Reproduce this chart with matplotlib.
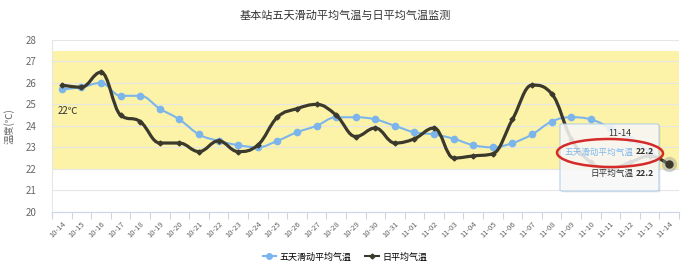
import numpy as np
import matplotlib
matplotlib.use('Agg')
import matplotlib.pyplot as plt
from matplotlib.path import Path
from matplotlib.patches import PathPatch, Ellipse, FancyBboxPatch
from matplotlib.lines import Line2D

plt.rcParams['font.family'] = ['Noto Sans CJK SC', 'DejaVu Sans']

TITLE = '基本站五天滑动平均气温与日平均气温监测'
DATES = ['10-14', '10-15', '10-16', '10-17', '10-18', '10-19', '10-20', '10-21',
         '10-22', '10-23', '10-24', '10-25', '10-26', '10-27', '10-28', '10-29',
         '10-30', '10-31', '11-01', '11-02', '11-03', '11-04', '11-05', '11-06',
         '11-07', '11-08', '11-09', '11-10', '11-11', '11-12', '11-13', '11-14']
# 五天滑动平均气温
MOVING = [25.7, 25.8, 26.0, 25.4, 25.4, 24.8, 24.3, 23.6, 23.3, 23.1, 23.0, 23.3,
          23.7, 24.0, 24.4, 24.4, 24.3, 24.0, 23.7, 23.6, 23.4, 23.1, 23.0, 23.2,
          23.6, 24.2, 24.4, 24.3, 23.9, 23.4, 22.8, 22.2]
# 日平均气温
DAILY = [25.9, 25.8, 26.5, 24.5, 24.2, 23.2, 23.2, 22.8, 23.3, 22.8, 23.1, 24.4,
         24.8, 25.0, 24.5, 23.5, 23.9, 23.2, 23.4, 23.9, 22.5, 22.6, 22.7, 24.3,
         25.9, 25.5, 23.4, 22.3, 22.0, 22.3, 22.6, 22.2]
BAND = (22, 27.5)
NAMES = ['五天滑动平均气温', '日平均气温']

BLUE = '#7cb5ec'
DARK = '#3b392c'


def spline_path(xs, ys, smoothing=1.5):
    # highcharts-style spline control points
    n = len(xs)
    lc = [(xs[i], ys[i]) for i in range(n)]
    rc = [(xs[i], ys[i]) for i in range(n)]
    d = smoothing + 1
    for i in range(1, n - 1):
        px, py = xs[i], ys[i]
        lx, ly = xs[i - 1], ys[i - 1]
        nx, ny = xs[i + 1], ys[i + 1]
        lcx, lcy = (smoothing * px + lx) / d, (smoothing * py + ly) / d
        rcx, rcy = (smoothing * px + nx) / d, (smoothing * py + ny) / d
        if rcx != lcx:
            corr = (rcy - lcy) * (rcx - px) / (rcx - lcx) + py - rcy
            lcy += corr
            rcy += corr
        if lcy > ly and lcy > py:
            lcy = max(ly, py); rcy = 2 * py - lcy
        elif lcy < ly and lcy < py:
            lcy = min(ly, py); rcy = 2 * py - lcy
        if rcy > ny and rcy > py:
            rcy = max(ny, py); lcy = 2 * py - rcy
        elif rcy < ny and rcy < py:
            rcy = min(ny, py); lcy = 2 * py - rcy
        lc[i] = (lcx, lcy)
        rc[i] = (rcx, rcy)
    verts = [(xs[0], ys[0])]
    codes = [Path.MOVETO]
    for i in range(1, n):
        verts += [rc[i - 1], lc[i], (xs[i], ys[i])]
        codes += [Path.CURVE4] * 3
    return Path(verts, codes)


def main():
    fig = plt.figure(figsize=(6.9, 2.75), dpi=100)
    ax = fig.add_axes([52 / 690, 1 - 211.7 / 275, 627 / 690, 171.7 / 275])
    x = np.arange(len(DATES))

    ax.axhspan(BAND[0], BAND[1], color='#fcf3a8', zorder=0, lw=0)
    ax.text(-0.2, 24.7, '22℃', fontsize=7, color='#333333', va='center', ha='left')

    ax.add_patch(PathPatch(spline_path(x, MOVING), fill=False, ec=BLUE, lw=1.5, zorder=3))
    ax.plot(x, MOVING, 'o', color=BLUE, ms=4.5, zorder=4)
    ax.add_patch(PathPatch(spline_path(x, DAILY), fill=False, ec=DARK, lw=2.3, zorder=5))
    ax.plot(x, DAILY, 'D', color=DARK, ms=2.5, zorder=6)
    # hovered point
    ax.plot(x[-1], DAILY[-1], 'o', color='#999999', ms=11, alpha=0.45, zorder=6, mec='none')
    ax.plot(x[-1], DAILY[-1], 'o', color=DARK, ms=5, zorder=7)

    ax.set_xlim(-0.5, len(DATES) - 0.5)
    ax.set_ylim(20, 28)
    ax.set_yticks(range(20, 29))
    ax.yaxis.grid(True, color='#e6e6e6', lw=0.8, zorder=1)
    ax.set_axisbelow(True)
    ax.set_xticks(x)
    ax.set_xticklabels(DATES, rotation=45, ha='right', rotation_mode='anchor',
                       fontsize=5.5, color='#666666')
    ax.set_xticks(np.arange(-0.5, len(DATES)), minor=True)
    ax.tick_params(axis='x', which='major', length=0, pad=6)
    ax.tick_params(axis='x', which='minor', length=5, color='#ccd6eb', width=0.8)
    ax.tick_params(axis='y', length=0, labelsize=7, labelcolor='#666666', pad=11)
    for s in ('top', 'right'):
        ax.spines[s].set_visible(False)
    ax.spines['left'].set_color('#e6e6e6')
    ax.spines['bottom'].set_color('#ccd6eb')
    ax.set_ylabel('温度(℃)', fontsize=7, color='#666666', labelpad=8)

    fig.text(0.5, 1 - 16 / 275, TITLE, ha='center', va='center', fontsize=8, color='#333333')

    handles = [Line2D([], [], color=BLUE, marker='o', ms=4, lw=1.5),
               Line2D([], [], color=DARK, marker='D', ms=2.5, lw=1.5)]
    fig.legend(handles, NAMES, loc='center', bbox_to_anchor=(0.5, 1 - 257 / 275), ncol=2,
               frameon=False, fontsize=6.5, handlelength=1.5, handletextpad=0.4,
               columnspacing=1.5)

    # tooltip
    shadow = FancyBboxPatch((561.5 / 690, 1 - 192.5 / 275), 99 / 690, 67 / 275,
                            boxstyle='round,pad=0,rounding_size=0.004',
                            transform=fig.transFigure, fc='#000000', ec='none',
                            alpha=0.08, zorder=9)
    fig.add_artist(shadow)
    tip = FancyBboxPatch((560 / 690, 1 - 191 / 275), 99 / 690, 67 / 275,
                         boxstyle='round,pad=0,rounding_size=0.004', transform=fig.transFigure,
                         fc='#fbfbfb', ec='#a9c8e6', lw=0.8, alpha=0.85, zorder=10)
    fig.add_artist(tip)
    fig.text(620 / 690, 1 - 133 / 275, DATES[-1], ha='center', va='center',
             fontsize=6.5, color='#333333', zorder=11)
    fig.text(654 / 690, 1 - 152 / 275, '22.2', ha='right', va='center',
             fontsize=6.2, color='#333333', fontweight='bold', zorder=11)
    fig.text(634 / 690, 1 - 152 / 275, NAMES[0], ha='right', va='center',
             fontsize=6.2, color=BLUE, zorder=11)
    fig.text(654 / 690, 1 - 173 / 275, '22.2', ha='right', va='center',
             fontsize=6.2, color='#333333', fontweight='bold', zorder=11)
    fig.text(634 / 690, 1 - 173 / 275, NAMES[1], ha='right', va='center',
             fontsize=6.2, color='#333333', zorder=11)
    ell = Ellipse((610 / 690, 1 - 153 / 275), 106 / 690, 28 / 275, angle=-2,
                  transform=fig.transFigure, fill=False, ec='#d42a2a', lw=1.8, zorder=12)
    fig.add_artist(ell)

    fig.savefig('out.png', dpi=100)


if __name__ == '__main__':
    main()
